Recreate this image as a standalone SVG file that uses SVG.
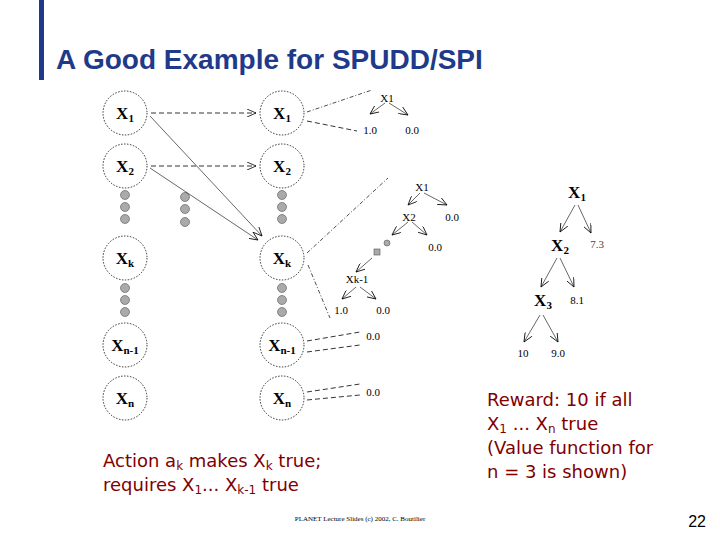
<svg xmlns="http://www.w3.org/2000/svg" width="720" height="540" viewBox="0 0 720 540">
<style>
.n{fill:#fff;stroke:#000;stroke-width:0.8;stroke-dasharray:1.5 1.5}
.nl{font-family:"Liberation Serif",serif;font-weight:bold;font-size:17px;text-anchor:middle}
.sub{font-size:11px}
.d{fill:#aaa;stroke:#555;stroke-width:0.6}
.dash{stroke:#000;stroke-width:0.8;stroke-dasharray:5 3;fill:none}
.dd{stroke:#000;stroke-width:0.7;stroke-dasharray:4 2 1 2;fill:none}
.s{stroke:#000;stroke-width:0.6;fill:none}
.t{font-family:"Liberation Serif",serif;font-size:11px;text-anchor:middle}
.txt{font-family:"DejaVu Sans",sans-serif;font-size:18px;fill:#800000}
</style>
<defs><marker id="a" markerWidth="10" markerHeight="8" refX="9" refY="4" orient="auto" markerUnits="userSpaceOnUse"><path d="M0,0 L9,4 L0,8" fill="none" stroke="#000" stroke-width="0.8"/></marker></defs>
<rect width="720" height="540" fill="#fff"/>
<rect x="39" y="0" width="5" height="80" fill="#1f3a8a"/>
<text x="56" y="69" font-family="Liberation Sans,sans-serif" font-weight="bold" font-size="28" fill="#1f3a8a">A Good Example for SPUDD/SPI</text>
<g id="L1"><circle class="n" cx="125" cy="113" r="22"/><text class="nl" x="125" y="119">X<tspan class="sub" dy="3">1</tspan></text></g>
<g id="L2"><circle class="n" cx="125" cy="166" r="22"/><text class="nl" x="125" y="172">X<tspan class="sub" dy="3">2</tspan></text></g>
<g id="Lk"><circle class="n" cx="125" cy="258" r="22"/><text class="nl" x="125" y="264">X<tspan class="sub" dy="3">k</tspan></text></g>
<g id="Ln1"><circle class="n" cx="125" cy="345" r="22"/><text class="nl" x="125" y="351">X<tspan class="sub" dy="3">n-1</tspan></text></g>
<g id="Ln"><circle class="n" cx="125" cy="398" r="22"/><text class="nl" x="125" y="404">X<tspan class="sub" dy="3">n</tspan></text></g>
<g id="R1"><circle class="n" cx="282" cy="113" r="22"/><text class="nl" x="282" y="119">X<tspan class="sub" dy="3">1</tspan></text></g>
<g id="R2"><circle class="n" cx="282" cy="166" r="22"/><text class="nl" x="282" y="172">X<tspan class="sub" dy="3">2</tspan></text></g>
<g id="Rk"><circle class="n" cx="282" cy="258" r="22"/><text class="nl" x="282" y="264">X<tspan class="sub" dy="3">k</tspan></text></g>
<g id="Rn1"><circle class="n" cx="282" cy="345" r="22"/><text class="nl" x="282" y="351">X<tspan class="sub" dy="3">n-1</tspan></text></g>
<g id="Rn"><circle class="n" cx="282" cy="398" r="22"/><text class="nl" x="282" y="404">X<tspan class="sub" dy="3">n</tspan></text></g>
<g id="dots">
<circle class="d" cx="125" cy="195" r="4.5"/><circle class="d" cx="125" cy="207" r="4.5"/><circle class="d" cx="125" cy="219" r="4.5"/>
<circle class="d" cx="185" cy="197" r="4.5"/><circle class="d" cx="185" cy="209" r="4.5"/><circle class="d" cx="185" cy="222" r="4.5"/>
<circle class="d" cx="282" cy="195" r="4.5"/><circle class="d" cx="282" cy="207" r="4.5"/><circle class="d" cx="282" cy="219" r="4.5"/>
<circle class="d" cx="125" cy="288" r="4.5"/><circle class="d" cx="125" cy="300" r="4.5"/><circle class="d" cx="125" cy="312" r="4.5"/>
<circle class="d" cx="282" cy="288" r="4.5"/><circle class="d" cx="282" cy="300" r="4.5"/><circle class="d" cx="282" cy="312" r="4.5"/>
</g>
<g id="connectors">
<line class="dash" x1="151" y1="113" x2="256" y2="113" marker-end="url(#a)"/>
<line class="dash" x1="151" y1="166" x2="256" y2="166" marker-end="url(#a)"/>
<line class="s" x1="150" y1="116" x2="262" y2="236" marker-end="url(#a)"/>
<line class="s" x1="150" y1="168" x2="258" y2="240" marker-end="url(#a)"/>
<line class="dd" x1="307" y1="112" x2="372" y2="90"/>
<line class="dash" x1="307" y1="121" x2="357" y2="131"/>
<line class="s" x1="385" y1="103" x2="370" y2="114" marker-end="url(#a)"/>
<line class="s" x1="389" y1="103" x2="408" y2="115" marker-end="url(#a)"/>
<line class="dd" x1="307" y1="253" x2="388" y2="178"/>
<line class="dd" x1="308" y1="265" x2="330" y2="318"/>
<line class="s" x1="420" y1="193" x2="408" y2="205" marker-end="url(#a)"/>
<line class="s" x1="424" y1="193" x2="447" y2="205" marker-end="url(#a)"/>
<line class="s" x1="408" y1="222" x2="392" y2="235" marker-end="url(#a)"/>
<line class="s" x1="412" y1="222" x2="427" y2="235" marker-end="url(#a)"/>
<circle class="d" cx="387" cy="243" r="3"/>
<rect class="d" x="374" y="249" width="6" height="6"/>
<line class="s" x1="372" y1="258" x2="356" y2="272" marker-end="url(#a)"/>
<line class="s" x1="356" y1="287" x2="342" y2="299" marker-end="url(#a)"/>
<line class="s" x1="360" y1="287" x2="376" y2="299" marker-end="url(#a)"/>
<line class="dash" x1="307" y1="341" x2="360" y2="332"/>
<line class="dash" x1="307" y1="352" x2="360" y2="345"/>
<line class="dash" x1="307" y1="392" x2="360" y2="384"/>
<line class="dash" x1="307" y1="400" x2="360" y2="395"/>
<line class="s" x1="575" y1="205" x2="560" y2="232" marker-end="url(#a)"/>
<line class="s" x1="578" y1="205" x2="591" y2="233" marker-end="url(#a)"/>
<line class="s" x1="557" y1="258" x2="541" y2="287" marker-end="url(#a)"/>
<line class="s" x1="560" y1="258" x2="574" y2="287" marker-end="url(#a)"/>
<line class="s" x1="540" y1="315" x2="524" y2="342" marker-end="url(#a)"/>
<line class="s" x1="543" y1="315" x2="558" y2="342" marker-end="url(#a)"/>
</g>
<g id="labels">
<text class="t" x="387" y="102">X1</text><text class="t" x="370" y="134">1.0</text><text class="t" x="412" y="134">0.0</text>
<text class="t" x="422" y="191">X1</text><text class="t" x="409" y="221">X2</text><text class="t" x="452" y="221">0.0</text>
<text class="t" x="435" y="251">0.0</text><text class="t" x="357" y="283">Xk-1</text>
<text class="t" x="341" y="314">1.0</text><text class="t" x="383" y="314">0.0</text>
<text class="t" x="373" y="340">0.0</text><text class="t" x="373" y="396">0.0</text>
<text class="nl" x="577" y="198">X<tspan class="sub" dy="3">1</tspan></text>
<text class="nl" x="560" y="251">X<tspan class="sub" dy="3">2</tspan></text>
<text class="nl" x="543" y="306">X<tspan class="sub" dy="3">3</tspan></text>
<text class="t" x="597" y="248" fill="#444">7.3</text>
<text class="t" x="577" y="304">8.1</text>
<text class="t" x="523" y="357">10</text><text class="t" x="558" y="357">9.0</text>
</g>
<text class="txt" x="103" y="467">Action a<tspan font-size="12" dy="3">k</tspan><tspan dy="-3"> makes X</tspan><tspan font-size="12" dy="3">k</tspan><tspan dy="-3"> true;</tspan></text>
<text class="txt" x="103" y="491">requires X<tspan font-size="12" dy="3">1</tspan><tspan dy="-3">... X</tspan><tspan font-size="12" dy="3">k-1</tspan><tspan dy="-3"> true</tspan></text>
<text class="txt" x="487" y="406">Reward: 10 if all</text>
<text class="txt" x="487" y="430">X<tspan font-size="12" dy="3">1</tspan><tspan dy="-3"> ... X</tspan><tspan font-size="12" dy="3">n</tspan><tspan dy="-3"> true</tspan></text>
<text class="txt" x="487" y="454">(Value function for</text>
<text class="txt" x="487" y="478">n = 3 is shown)</text>
<text x="360" y="521" font-family="Liberation Serif,serif" font-size="7" text-anchor="middle">PLANET Lecture Slides (c) 2002, C. Boutilier</text>
<text x="706" y="527" font-family="Liberation Sans,sans-serif" font-size="16" text-anchor="end">22</text>
</svg>
